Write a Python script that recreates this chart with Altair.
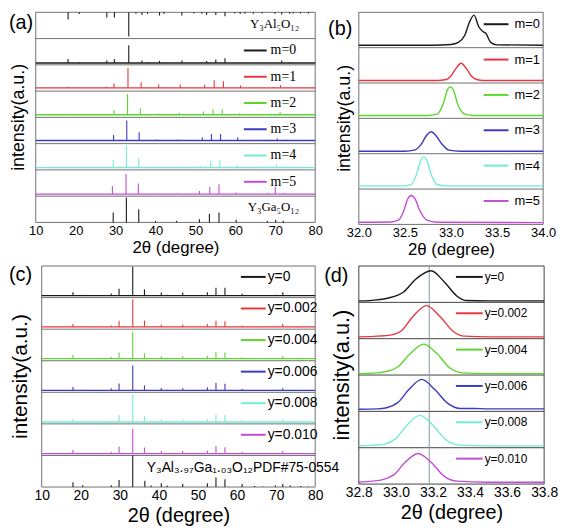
import altair as alt
import pandas as pd

SANS = "Liberation Sans"
SERIF = "Liberation Serif"
FRAME = "#707070"
BLACK = "#1a1a1a"
SAMPLE_COLORS = [BLACK, "#e8363e", "#5cd62c", "#3b3bbf", "#72ecd5", "#c24cd6"]
Y_TITLE = "intensity(a.u.)"
X_TITLE = "2θ (degree)"

# ---------------- panel (a): full XRD patterns, m series ----------------
A_ROWS = ["Al", "m=0", "m=1", "m=2", "m=3", "m=4", "m=5", "Ga"]
A_AL_POS = [18.1, 20.9, 27.8, 29.7, 33.3, 35.1, 36.6, 38.0, 41.0, 42.1, 46.6, 49.6, 51.6, 52.8,
            55.1, 57.4, 59.9, 61.2, 62.4, 64.5, 66.7, 69.9, 71.6, 73.6, 74.5, 76.3, 78.3]
A_AL_LEN = [0.27, 0.06, 0.2, 0.2, 0.92, 0.05, 0.1, 0.06, 0.12, 0.06, 0.12, 0.04, 0.05, 0.1,
            0.1, 0.15, 0.04, 0.06, 0.05, 0.05, 0.04, 0.05, 0.08, 0.05, 0.04, 0.04, 0.04]
A_GA_POS = [29.4, 32.7, 35.8, 40.0, 45.3, 51.0, 53.5, 55.9, 60.2, 68.0, 70.1, 72.0]
A_GA_H = [0.38, 0.95, 0.5, 0.06, 0.06, 0.12, 0.33, 0.38, 0.1, 0.05, 0.1, 0.06]
A_AL_LABEL = "Y₃Al₅O₁₂"
A_GA_LABEL = "Y₃Ga₅O₁₂"
A_POS = {
    "m=0": [18.1, 20.9, 27.8, 29.7, 33.3, 36.6, 38.0, 41.0, 42.1, 46.6, 52.8, 55.1, 57.4, 61.2, 71.6, 73.6],
    "m=1": [18.0, 20.8, 27.7, 29.6, 33.1, 36.4, 38.0, 40.8, 42.0, 46.2, 52.3, 54.7, 57.0, 61.3, 69.5, 71.3, 73.2],
    "m=2": [18.0, 29.6, 33.0, 36.2, 40.6, 46.0, 52.0, 54.4, 56.7, 61.1, 69.0, 71.2, 73.0],
    "m=3": [29.5, 32.8, 35.9, 37.5, 40.3, 45.6, 51.7, 54.0, 56.3, 60.6, 68.7, 70.5, 72.5],
    "m=4": [29.4, 32.7, 35.8, 40.1, 45.4, 51.3, 53.8, 56.1, 60.4, 68.4, 70.3, 72.4],
    "m=5": [29.2, 32.6, 35.7, 40.0, 45.3, 51.0, 53.6, 55.9, 60.2, 68.1, 70.0, 72.0],
}
A_H = {
    "m=0": [0.22, 0.1, 0.17, 0.22, 0.75, 0.17, 0.1, 0.15, 0.1, 0.17, 0.15, 0.2, 0.25, 0.1, 0.17, 0.1],
    "m=1": [0.17, 0.14, 0.17, 0.29, 0.88, 0.34, 0.15, 0.25, 0.15, 0.25, 0.24, 0.41, 0.38, 0.21, 0.16, 0.23, 0.14],
    "m=2": [0.14, 0.28, 0.88, 0.34, 0.16, 0.17, 0.22, 0.31, 0.31, 0.17, 0.14, 0.2, 0.12],
    "m=3": [0.33, 0.88, 0.43, 0.14, 0.16, 0.16, 0.24, 0.37, 0.37, 0.24, 0.15, 0.2, 0.15],
    "m=4": [0.39, 0.94, 0.45, 0.12, 0.12, 0.15, 0.33, 0.37, 0.2, 0.14, 0.2, 0.12],
    "m=5": [0.39, 0.84, 0.48, 0.1, 0.1, 0.2, 0.35, 0.45, 0.14, 0.13, 0.36, 0.12],
}
A_BASE = {"m=0": 0.07, "m=1": 0.12, "m=2": 0.1, "m=3": 0.12, "m=4": 0.09, "m=5": 0.08}

# ---------------- panel (b): (420) peak, m series ----------------
B_ROWS = ["m=0", "m=1", "m=2", "m=3", "m=4", "m=5"]
B_X = {
    "m=0": [32.0, 32.8, 33.0, 33.08, 33.15, 33.2, 33.25, 33.3, 33.35, 33.38, 33.43, 33.5, 34.0],
    "m=1": [32.0, 32.85, 32.95, 33.0, 33.05, 33.11, 33.17, 33.22, 33.28, 33.35, 34.0],
    "m=2": [32.0, 32.75, 32.85, 32.92, 32.96, 32.99, 33.03, 33.07, 33.15, 33.25, 34.0],
    "m=3": [32.0, 32.5, 32.6, 32.68, 32.73, 32.785, 32.84, 32.9, 32.98, 33.1, 34.0],
    "m=4": [32.0, 32.5, 32.57, 32.63, 32.67, 32.7, 32.74, 32.78, 32.85, 32.95, 34.0],
    "m=5": [32.0, 32.35, 32.43, 32.49, 32.53, 32.57, 32.61, 32.66, 32.74, 32.85, 34.0],
}
B_Y = {
    "m=0": [0.07, 0.07, 0.09, 0.15, 0.35, 0.72, 0.92, 0.6, 0.45, 0.4, 0.15, 0.08, 0.07],
    "m=1": [0.07, 0.07, 0.1, 0.2, 0.4, 0.56, 0.4, 0.2, 0.1, 0.07, 0.07],
    "m=2": [0.08, 0.08, 0.12, 0.45, 0.8, 0.89, 0.78, 0.42, 0.12, 0.08, 0.08],
    "m=3": [0.07, 0.07, 0.1, 0.28, 0.5, 0.62, 0.5, 0.28, 0.1, 0.07, 0.07],
    "m=4": [0.09, 0.09, 0.13, 0.45, 0.8, 0.91, 0.8, 0.45, 0.13, 0.09, 0.09],
    "m=5": [0.06, 0.07, 0.12, 0.4, 0.72, 0.82, 0.72, 0.4, 0.12, 0.06, 0.05],
}

# ---------------- panel (c): full XRD patterns, y series ----------------
C_ROWS = ["y=0", "y=0.002", "y=0.004", "y=0.006", "y=0.008", "y=0.010", "PDF"]
C_POS = [18.0, 20.5, 27.8, 29.8, 31.0, 33.3, 36.3, 38.0, 40.6, 42.1, 46.1, 52.4, 54.6, 56.9,
         61.3, 69.8, 71.7, 73.6, 75.6]
C_H = {
    "y=0": [0.17, 0.09, 0.13, 0.28, 0.07, 0.98, 0.26, 0.08, 0.16, 0.09, 0.16, 0.17, 0.31, 0.31, 0.12, 0.09, 0.17, 0.08, 0.06],
    "y=0.002": [0.16, 0.08, 0.12, 0.27, 0.06, 0.95, 0.27, 0.07, 0.15, 0.08, 0.15, 0.16, 0.27, 0.25, 0.12, 0.08, 0.16, 0.07, 0.05],
    "y=0.004": [0.18, 0.08, 0.12, 0.26, 0.06, 0.93, 0.24, 0.07, 0.14, 0.08, 0.15, 0.16, 0.28, 0.26, 0.11, 0.08, 0.15, 0.07, 0.05],
    "y=0.006": [0.17, 0.08, 0.13, 0.28, 0.06, 0.85, 0.22, 0.07, 0.14, 0.08, 0.14, 0.16, 0.3, 0.27, 0.11, 0.08, 0.14, 0.07, 0.05],
    "y=0.008": [0.15, 0.08, 0.1, 0.28, 0.06, 0.95, 0.24, 0.07, 0.15, 0.08, 0.14, 0.15, 0.3, 0.28, 0.12, 0.08, 0.14, 0.07, 0.05],
    "y=0.010": [0.18, 0.08, 0.12, 0.28, 0.06, 0.85, 0.25, 0.07, 0.15, 0.08, 0.15, 0.16, 0.3, 0.26, 0.11, 0.08, 0.15, 0.07, 0.05],
}
C_BASE = {"y=0": 0.06, "y=0.002": 0.07, "y=0.004": 0.07, "y=0.006": 0.06, "y=0.008": 0.06, "y=0.010": 0.06}
C_PDF_POS = [18.0, 20.5, 27.8, 29.8, 33.3, 36.4, 38.0, 40.6, 42.1, 46.1, 52.4, 54.6, 56.9, 61.3,
             64.5, 66.7, 69.8, 71.7, 73.6, 76.3, 78.3]
C_PDF_H = [0.15, 0.06, 0.06, 0.22, 1.0, 0.2, 0.05, 0.12, 0.05, 0.1, 0.12, 0.3, 0.25, 0.1,
           0.03, 0.02, 0.05, 0.1, 0.05, 0.03, 0.02]
C_PDF_LABEL = "Y₃Al₃.₉₇Ga₁.₀₃O₁₂PDF#75-0554"

# ---------------- panel (d): (420) peak, y series ----------------
D_ROWS = ["y=0", "y=0.002", "y=0.004", "y=0.006", "y=0.008", "y=0.010"]
D_REF_LINE = 33.18
D_X = {
    "y=0": [32.8, 32.9, 32.96, 33.04, 33.11, 33.19, 33.26, 33.33, 33.38, 33.5, 33.8],
    "y=0.002": [32.8, 32.9, 32.97, 33.03, 33.09, 33.165, 33.24, 33.31, 33.37, 33.5, 33.8],
    "y=0.004": [32.8, 32.9, 32.95, 33.01, 33.07, 33.15, 33.22, 33.29, 33.36, 33.5, 33.8],
    "y=0.006": [32.8, 32.9, 32.95, 33.01, 33.07, 33.14, 33.21, 33.28, 33.35, 33.42, 33.5, 33.8],
    "y=0.008": [32.8, 32.88, 32.94, 33.0, 33.06, 33.13, 33.2, 33.27, 33.34, 33.5, 33.8],
    "y=0.010": [32.8, 32.87, 32.93, 32.99, 33.05, 33.12, 33.19, 33.26, 33.33, 33.5, 33.8],
}
D_Y = {
    "y=0": [0.04, 0.07, 0.12, 0.28, 0.65, 0.87, 0.57, 0.17, 0.05, 0.04, 0.04],
    "y=0.002": [0.05, 0.07, 0.1, 0.22, 0.6, 0.91, 0.6, 0.2, 0.07, 0.05, 0.05],
    "y=0.004": [0.04, 0.06, 0.1, 0.22, 0.55, 0.85, 0.6, 0.2, 0.06, 0.04, 0.04],
    "y=0.006": [0.06, 0.07, 0.1, 0.24, 0.6, 0.88, 0.6, 0.22, 0.08, 0.08, 0.07, 0.07],
    "y=0.008": [0.05, 0.07, 0.1, 0.25, 0.62, 0.89, 0.62, 0.22, 0.07, 0.05, 0.05],
    "y=0.010": [0.05, 0.08, 0.12, 0.26, 0.6, 0.84, 0.6, 0.22, 0.08, 0.05, 0.05],
}


# ---------------- table helpers (rows stacked top to bottom) ----------------
class Table:
    def __init__(self, nrows, row_px, xdom):
        self.n, self.rp, self.xdom, self.recs = nrows, row_px, xdom, []

    def off(self, i):
        return self.n - 1 - i

    def add(self, **kw):
        self.recs.append(kw)

    def frame(self):
        for k in range(self.n + 1):
            self.add(kind="hsep", x=self.xdom[0], x2=self.xdom[1], y=k)
        for xv in self.xdom:
            self.add(kind="vsep", x=xv)

    def legend(self, i, key, col, ly_px):
        self.add(kind="leg", row=key, col=col, label=key,
                 y=self.n - i - ly_px / self.rp)

    def ref(self, i, label, ly_px):
        self.add(kind="ref", label=label, y=self.n - i - ly_px / self.rp)

    def df(self):
        return pd.DataFrame(self.recs)


def sample_sticks(t, i, key, col, pos, hs, base, ly):
    o = t.off(i)
    t.add(kind="base", row=key, col=col, x=t.xdom[0], x2=t.xdom[1], y=o + base)
    for p, h in zip(pos, hs):
        t.add(kind="stick", row=key, col=col, x=p, y=o + base, y2=o + h)
    t.legend(i, key, col, ly)


def curve(t, i, key, col, xs, ys, ly):
    o = t.off(i)
    for xv, yv in zip(xs, ys):
        t.add(kind="curve", row=key, col=col, x=xv, y=o + yv)
    t.legend(i, key, col, ly)


HA, HB, HC, HD = 26.5, 35.67, 31.86, 36.67

ta = Table(len(A_ROWS), HA, [10, 80])
ta.frame()
for p, L in zip(A_AL_POS, A_AL_LEN):
    ta.add(kind="stick", row="Al", col=BLACK, x=p, y=ta.off(0) + 1.0, y2=ta.off(0) + 1.0 - L)
for p, h in zip(A_GA_POS, A_GA_H):
    ta.add(kind="stick", row="Ga", col=BLACK, x=p, y=ta.off(7), y2=ta.off(7) + h)
for i, (k, c) in enumerate(zip(A_ROWS[1:-1], SAMPLE_COLORS), start=1):
    sample_sticks(ta, i, k, c, A_POS[k], A_H[k], A_BASE[k], 12)
ta.ref(0, A_AL_LABEL, 12)
ta.ref(7, A_GA_LABEL, 11)
df_a = ta.df()

tb = Table(len(B_ROWS), HB, [32, 34])
tb.frame()
for i, (k, c) in enumerate(zip(B_ROWS, SAMPLE_COLORS)):
    curve(tb, i, k, c, B_X[k], B_Y[k], 12)
df_b = tb.df()

tc = Table(len(C_ROWS), HC, [10, 80])
tc.frame()
for i, (k, c) in enumerate(zip(C_ROWS[:-1], SAMPLE_COLORS)):
    sample_sticks(tc, i, k, c, C_POS, C_H[k], C_BASE[k], 11)
for p, h in zip(C_PDF_POS, C_PDF_H):
    tc.add(kind="stick", row="PDF", col=BLACK, x=p, y=tc.off(6), y2=tc.off(6) + h)
tc.ref(6, C_PDF_LABEL, 13)
df_c = tc.df()

td = Table(len(D_ROWS), HD, [32.8, 33.8])
td.frame()
for i, (k, c) in enumerate(zip(D_ROWS, SAMPLE_COLORS)):
    curve(td, i, k, c, D_X[k], D_Y[k], 11)
td.add(kind="vline", x=D_REF_LINE)
df_d = td.df()


def panel(df, n, W, H, xdom, xrange, xvalues, xfmt, lab_size, xt_size, tit_pad,
          leg, legfont, legsize, ref, tag, yt, frame_color):
    X = alt.X("x:Q", scale=alt.Scale(domain=xdom, range=xrange, nice=False, zero=False),
              axis=alt.Axis(values=xvalues, format=xfmt, title=X_TITLE, grid=False,
                            ticks=False, domain=False, labelFlush=False,
                            labelFont=SANS, labelFontSize=lab_size, labelColor="black",
                            labelPadding=2, titleFont=SANS, titleFontSize=xt_size,
                            titleFontWeight="normal", titleColor="black", titlePadding=tit_pad))
    Y = alt.Y("y:Q", scale=alt.Scale(domain=[0, n], nice=False, zero=False), axis=None)
    C = alt.Color("col:N", scale=None)
    base = alt.Chart()
    kinds = set(df["kind"])
    layers = [
        base.transform_filter(alt.datum.kind == "hsep")
        .mark_rule(color=frame_color, strokeWidth=1).encode(x=X, x2="x2:Q", y=Y),
        base.transform_filter(alt.datum.kind == "vsep")
        .mark_rule(color=frame_color, strokeWidth=1)
        .encode(x=X, y=alt.value(0), y2=alt.value(H)),
    ]
    if "vline" in kinds:
        layers.append(base.transform_filter(alt.datum.kind == "vline")
                      .mark_rule(color="#8796a3", strokeWidth=1)
                      .encode(x=X, y=alt.value(0), y2=alt.value(H)))
    if "curve" in kinds:
        layers.append(base.transform_filter(alt.datum.kind == "curve")
                      .mark_line(interpolate="monotone", strokeWidth=1.4)
                      .encode(x=X, y=Y, color=C, detail="row:N"))
    if "stick" in kinds:
        layers.append(base.transform_filter(alt.datum.kind == "stick")
                      .mark_rule(strokeWidth=1.1).encode(x=X, y=Y, y2="y2:Q", color=C))
    if "base" in kinds:
        layers.append(base.transform_filter(alt.datum.kind == "base")
                      .mark_rule(strokeWidth=1.3).encode(x=X, x2="x2:Q", y=Y, color=C))
    lx1, lx2, ltx = leg
    layers.append(base.transform_filter(alt.datum.kind == "leg").mark_rule(strokeWidth=2)
                  .encode(x=alt.value(lx1), x2=alt.value(lx2), y=Y, color=C))
    layers.append(base.transform_filter(alt.datum.kind == "leg")
                  .mark_text(align="left", baseline="middle", font=legfont, fontSize=legsize,
                             color="black")
                  .encode(x=alt.value(ltx), y=Y, text="label:N"))
    if ref is not None:
        rx, ralign, rfont, rsize = ref
        layers.append(base.transform_filter(alt.datum.kind == "ref")
                      .mark_text(align=ralign, baseline="middle", font=rfont, fontSize=rsize,
                                 color="black")
                      .encode(x=alt.value(rx), y=Y, text="label:N"))
    tx, ty, tlabel = tag
    layers.append(alt.Chart(pd.DataFrame({"label": [tlabel]}))
                  .mark_text(align="left", baseline="middle", font=SANS, fontSize=20,
                             color="black")
                  .encode(x=alt.value(tx), y=alt.value(ty), text="label:N"))
    yx, yy, ysize = yt
    layers.append(alt.Chart(pd.DataFrame({"label": [Y_TITLE]}))
                  .mark_text(align="center", baseline="middle", font=SANS, fontSize=ysize,
                             angle=270, color="black")
                  .encode(x=alt.value(yx), y=alt.value(yy), text="label:N"))
    return alt.layer(*layers, data=df).properties(
        width=W, height=H, view=alt.ViewBackground(stroke="transparent"))


A = panel(df_a, 8, 282, HA * 8, [10, 80], [0, 282], [10, 20, 30, 40, 50, 60, 70, 80], "d",
          13, 17, 2, (210, 233, 237), SERIF, 14, (266, "right", SERIF, 13),
          (-27, 11, "(a)"), (-17, HA * 4, 18), FRAME)
B = panel(df_b, 6, 188, HB * 6, [32, 34], [0, 186], [32, 32.5, 33, 33.5, 34], ".1f",
          13, 17, 2, (126, 151, 157), SANS, 13, None,
          (-31, 17, "(b)"), (-14, HB * 3, 18), FRAME)
C = panel(df_c, 7, 282, HC * 7, [10, 80], [6, 282], [10, 20, 30, 40, 50, 60, 70, 80], "d",
          14, 20, 3, (207, 232, 234), SANS, 14, (112, "left", SANS, 14),
          (-27, 9, "(c)"), (-15, HC * 3.5, 21), FRAME)
D = panel(df_d, 6, 188, HD * 6, [32.8, 33.8], [0, 187], [32.8, 33.0, 33.2, 33.4, 33.6, 33.8],
          ".1f", 14, 20, 3, (98, 125, 127), SANS, 12, None,
          (-35, 10, "(d)"), (-17, HD * 3, 22), "#404040")

chart = alt.concat(
    A, B, C, D,
    columns=2,
    spacing={"row": 41, "column": 44},
    bounds="flush",
    padding=0,
    background="white",
)

chart.save("out.html", embed_options={"renderer": "svg", "actions": False})
